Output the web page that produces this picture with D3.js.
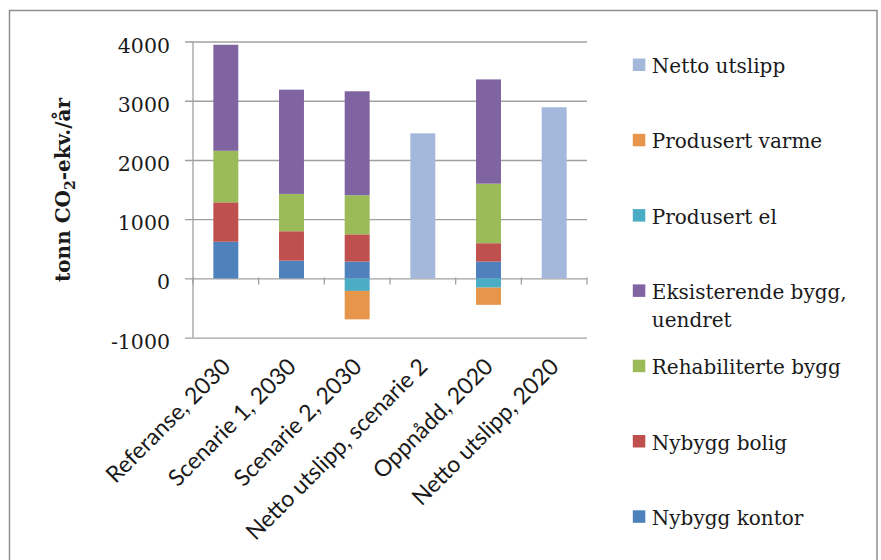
<!DOCTYPE html>
<html>
<head>
<meta charset="utf-8">
<script src="https://cdn.jsdelivr.net/npm/d3@7"></script>
<style>
  body { margin: 0; background: #fff; }
  #chart { width: 881px; height: 560px; }
</style>
</head>
<body>
<div id="chart"></div>
<script>
const categories = ["Referanse, 2030", "Scenarie 1, 2030", "Scenarie 2, 2030",
    "Netto utslipp, scenarie 2", "Oppnådd, 2020", "Netto utslipp, 2020"];

// tonn CO2-ekv./år per kategori
const nybyggKontor      = [620, 300, 285, 0, 285, 0];
const nybyggBolig       = [665, 497, 460, 0, 310, 0];
const rehabiliterteBygg = [870, 630, 660, 0, 1005, 0];
const eksisterendeBygg  = [1790, 1760, 1755, 0, 1760, 0];
const produsertEl       = [0, 0, -210, 0, -155, 0];
const produsertVarme    = [0, 0, -480, 0, -290, 0];
const nettoUtslipp      = [0, 0, 0, 2450, 0, 2890];

const yTicks = [-1000, 0, 1000, 2000, 3000, 4000];

// stacking order (bottom -> top), legend is shown in reverse
const series = [
    {key: "Nybygg kontor", values: nybyggKontor, color: "#4F81BD"},
    {key: "Nybygg bolig", values: nybyggBolig, color: "#C0504D"},
    {key: "Rehabiliterte bygg", values: rehabiliterteBygg, color: "#9BBB59"},
    {key: "Eksisterende bygg, uendret", values: eksisterendeBygg, color: "#8064A2"},
    {key: "Produsert el", values: produsertEl, color: "#4BACC6"},
    {key: "Produsert varme", values: produsertVarme, color: "#E6954A"},
    {key: "Netto utslipp", values: nettoUtslipp, color: "#A3B8DA"}
];

let table = categories.map(function(c, i) {
    let row = {category: c};
    series.forEach(function(s) { row[s.key] = s.values[i]; });
    return row;
});

let svg = d3.select("#chart").append("svg")
    .attr("width", 881)
    .attr("height", 560);

// outer frame (bottom edge is outside the picture)
svg.append("rect")
    .attr("x", 9.5).attr("y", 10.5)
    .attr("width", 867.5).attr("height", 580)
    .attr("fill", "none")
    .attr("stroke", "#8e8e8e")
    .attr("stroke-width", 1.5);

let plotLeft = 193, plotRight = 587;

let x = d3.scaleBand()
    .domain(categories)
    .range([plotLeft, plotRight])
    .paddingInner(0.62)
    .paddingOuter(0.31);

let y = d3.scaleLinear()
    .domain([-1000, 4000])
    .range([337.7, 41.5]);

// gridlines + y labels
let yAxis = svg.append("g")
    .attr("class", "y-axis")
    .attr("transform", "translate(185,0)")
    .call(d3.axisLeft(y).tickValues(yTicks).tickSize(-(plotRight - 185)).tickPadding(15));

yAxis.select(".domain").remove();
yAxis.selectAll(".tick line")
    .attr("stroke", "#a0a0a0")
    .attr("stroke-width", 1.3);
yAxis.selectAll(".tick text")
    .attr("font-family", "'DejaVu Serif', serif")
    .attr("font-size", "20.5px")
    .attr("fill", "#1a1a1a")
    .attr("dy", "10.5")
    .text(function(d) { return d; });

let stack = d3.stack()
    .keys(series.map(function(s) { return s.key; }))
    .offset(d3.stackOffsetDiverging);

let stacked = stack(table);

svg.append("g").selectAll("g")
    .data(stacked)
    .enter()
    .append("g")
    .attr("fill", function(d, i) { return series[i].color; })
    .selectAll("rect")
    .data(function(d) { return d; })
    .enter()
    .append("rect")
    .attr("x", function(d) { return x(d.data.category); })
    .attr("width", x.bandwidth())
    .attr("y", function(d) { return y(Math.max(d[0], d[1])); })
    .attr("height", function(d) { return Math.abs(y(d[0]) - y(d[1])); });

// y axis line
svg.append("line")
    .attr("x1", plotLeft).attr("x2", plotLeft)
    .attr("y1", y(4000)).attr("y2", y(-1000))
    .attr("stroke", "#a0a0a0")
    .attr("stroke-width", 1.3);

// category tick marks on the zero line
let step = x.step();
svg.append("g").selectAll("line")
    .data(d3.range(categories.length + 1))
    .enter()
    .append("line")
    .attr("x1", function(i) { return plotLeft + i * step; })
    .attr("x2", function(i) { return plotLeft + i * step; })
    .attr("y1", y(0) - 1)
    .attr("y2", y(0) + 6)
    .attr("stroke", "#a0a0a0")
    .attr("stroke-width", 1.3);

// rotated category labels
svg.append("g").selectAll("text")
    .data(categories)
    .enter()
    .append("text")
    .attr("transform", function(d) {
        return "translate(" + (x(d) + x.bandwidth() / 2 + 6) + ",368) rotate(-45)";
    })
    .attr("text-anchor", "end")
    .attr("font-family", "Lato, sans-serif")
    .attr("font-size", "23px")
    .attr("fill", "#1a1a1a")
    .text(function(d) { return d; });

// y title
let title = svg.append("text")
    .attr("transform", "translate(69.5,190) rotate(-90)")
    .attr("text-anchor", "middle")
    .attr("font-family", "'DejaVu Serif', serif")
    .attr("font-weight", "bold")
    .attr("font-size", "20px")
    .attr("fill", "#1a1a1a");
title.append("tspan").text("tonn CO");
title.append("tspan").attr("font-size", "14px").attr("dy", 5).text("2");
title.append("tspan").attr("dy", -5).text("-ekv./år");

// legend
let legendItems = series.slice().reverse();
let legend = svg.append("g").selectAll("g")
    .data(legendItems)
    .enter()
    .append("g")
    .attr("transform", function(d, i) { return "translate(632.8," + (58.5 + i * 75.3) + ")"; });

legend.append("rect")
    .attr("width", 12.5).attr("height", 12.5)
    .attr("fill", function(d) { return d.color; });

legend.append("text")
    .attr("x", 19)
    .attr("y", 14.5)
    .attr("font-family", "'DejaVu Serif', serif")
    .attr("font-size", "20px")
    .attr("fill", "#1a1a1a")
    .each(function(d) {
        let t = d3.select(this);
        let parts = d.key === "Eksisterende bygg, uendret" ? ["Eksisterende bygg,", "uendret"] : [d.key];
        parts.forEach(function(p, k) {
            t.append("tspan").attr("x", 19).attr("dy", k === 0 ? 0 : 28).text(p);
        });
    });
</script>
</body>
</html>
